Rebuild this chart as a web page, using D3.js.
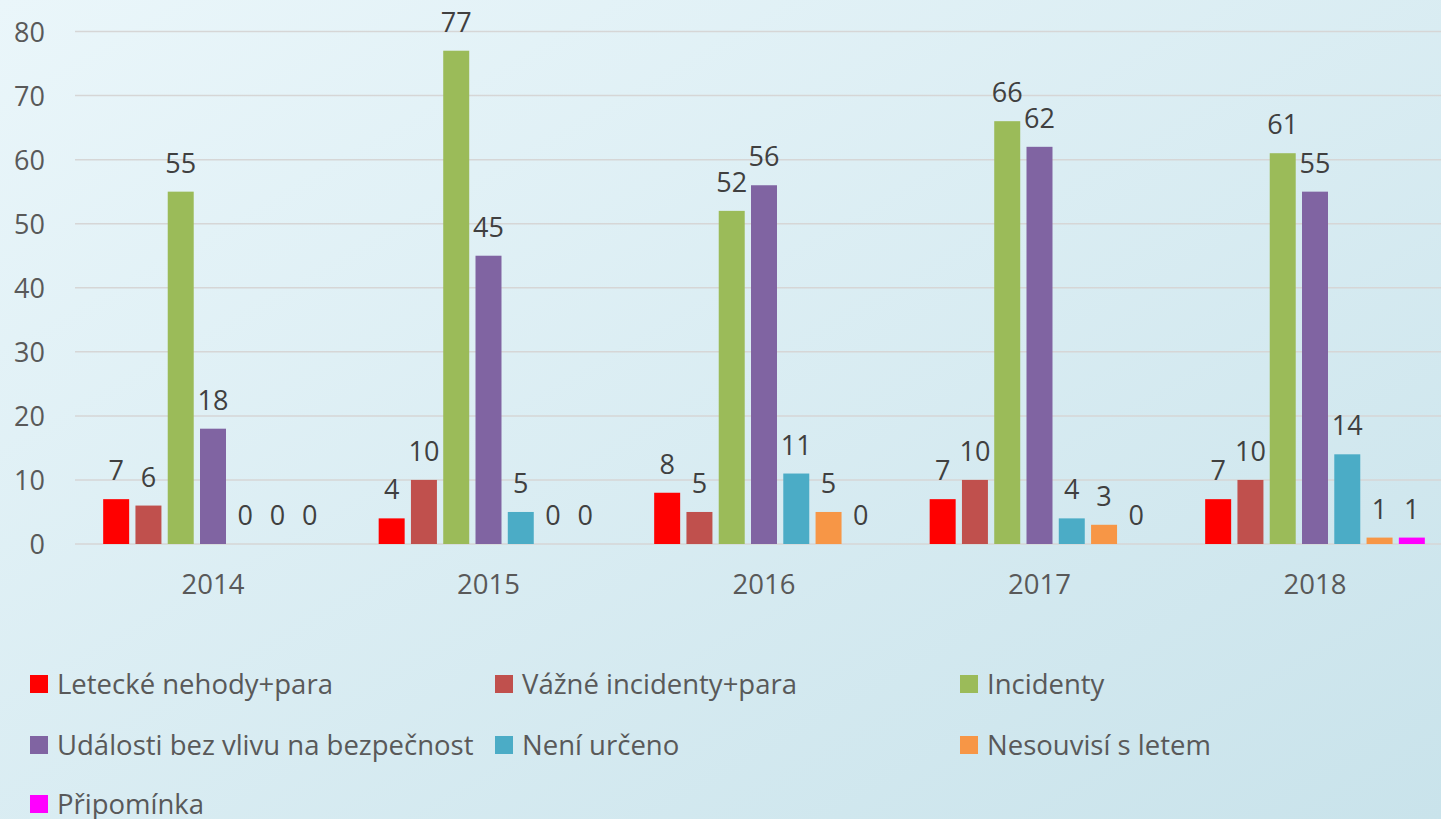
<!DOCTYPE html>
<html>
<head>
<meta charset="utf-8">
<script src="https://cdn.jsdelivr.net/npm/d3@7"></script>
<style>
  html, body { margin: 0; padding: 0; overflow: hidden; }
  svg { display: block; font-family: "Open Sans", sans-serif; }
</style>
</head>
<body>
<svg id="chart" width="1441" height="819"></svg>
<script>
const years = ["2014", "2015", "2016", "2017", "2018"];
const seriesNames = [
  "Letecké nehody+para",
  "Vážné incidenty+para",
  "Incidenty",
  "Události bez vlivu na bezpečnost",
  "Není určeno",
  "Nesouvisí s letem",
  "Připomínka"
];
const seriesColors = ["#ff0000", "#c0504d", "#9bbb59", "#8064a2", "#4bacc6", "#f79646", "#ff00ff"];
// values per series, one per year
const letecke = [7, 4, 8, 7, 7];
const vazne = [6, 10, 5, 10, 10];
const incidenty = [55, 77, 52, 66, 61];
const udalosti = [18, 45, 56, 62, 55];
const neniUrceno = [0, 5, 11, 4, 14];
const nesouvisi = [0, 0, 5, 3, 1];
const pripominka = [0, 0, 0, 0, 1];
const yTicks = [0, 10, 20, 30, 40, 50, 60, 70, 80];

const allValues = [letecke, vazne, incidenty, udalosti, neniUrceno, nesouvisi, pripominka];

const svg = d3.select("#chart");
const W = 1441, H = 819;

// background gradient
const defs = svg.append("defs");
const grad = defs.append("linearGradient")
  .attr("id", "bg")
  .attr("x1", "0%").attr("y1", "0%")
  .attr("x2", "100%").attr("y2", "100%");
grad.append("stop").attr("offset", "0%").attr("stop-color", "#eaf6fa");
grad.append("stop").attr("offset", "100%").attr("stop-color", "#c9e3eb");
svg.append("rect").attr("width", W).attr("height", H).attr("fill", "url(#bg)");

const x0 = d3.scaleBand().domain(years).range([75.25, 75.25 + 5 * 275.5]).paddingInner(0).paddingOuter(0);
const x1 = d3.scaleBand().domain(d3.range(seriesNames.length)).range([0, x0.bandwidth()])
  .paddingInner(0.195).paddingOuter(0.865);
const y = d3.scaleLinear().domain([0, 80]).range([544, 31.5]);

// gridlines
svg.append("g")
  .selectAll("line")
  .data(yTicks)
  .join("line")
  .attr("x1", 75).attr("x2", W)
  .attr("y1", d => y(d)).attr("y2", d => y(d))
  .attr("stroke", "#d6d6d6")
  .attr("stroke-width", 1.5);

// y axis labels
svg.append("g")
  .selectAll("text")
  .data(yTicks)
  .join("text")
  .attr("x", 45)
  .attr("y", d => y(d) + 10)
  .attr("text-anchor", "end")
  .attr("font-size", "27px")
  .attr("fill", "#595959")
  .text(d => d);

// x labels
svg.append("g")
  .selectAll("text")
  .data(years)
  .join("text")
  .attr("x", d => x0(d) + x0.bandwidth() / 2)
  .attr("y", 594)
  .attr("text-anchor", "middle")
  .attr("font-size", "27.5px")
  .attr("fill", "#595959")
  .text(d => d);

// bars
const cells = [];
years.forEach((yr, i) => {
  allValues.forEach((vals, s) => {
    cells.push({ year: yr, s: s, v: vals[i] });
  });
});

svg.append("g")
  .selectAll("rect")
  .data(cells)
  .join("rect")
  .attr("x", d => x0(d.year) + x1(d.s))
  .attr("y", d => y(d.v))
  .attr("width", x1.bandwidth())
  .attr("height", d => y(0) - y(d.v))
  .attr("fill", d => seriesColors[d.s]);

// value labels
svg.append("g")
  .selectAll("text")
  .data(cells)
  .join("text")
  .attr("x", d => x0(d.year) + x1(d.s) + x1.bandwidth() / 2)
  .attr("y", d => y(d.v) - 19)
  .attr("text-anchor", "middle")
  .attr("font-size", "27px")
  .attr("fill", "#404040")
  .text(d => d.v);

// legend
const legendPos = [
  [30, 675], [495, 675], [960, 675],
  [30, 736], [495, 736], [960, 736],
  [30, 795]
];
const legend = svg.append("g")
  .selectAll("g")
  .data(seriesNames)
  .join("g")
  .attr("transform", (d, i) => `translate(${legendPos[i][0]}, ${legendPos[i][1]})`);

legend.append("rect")
  .attr("width", 18).attr("height", 18)
  .attr("fill", (d, i) => seriesColors[i]);

legend.append("text")
  .attr("x", 27)
  .attr("y", 19)
  .attr("font-size", "27.5px")
  .attr("fill", "#595959")
  .text(d => d);
</script>
</body>
</html>
